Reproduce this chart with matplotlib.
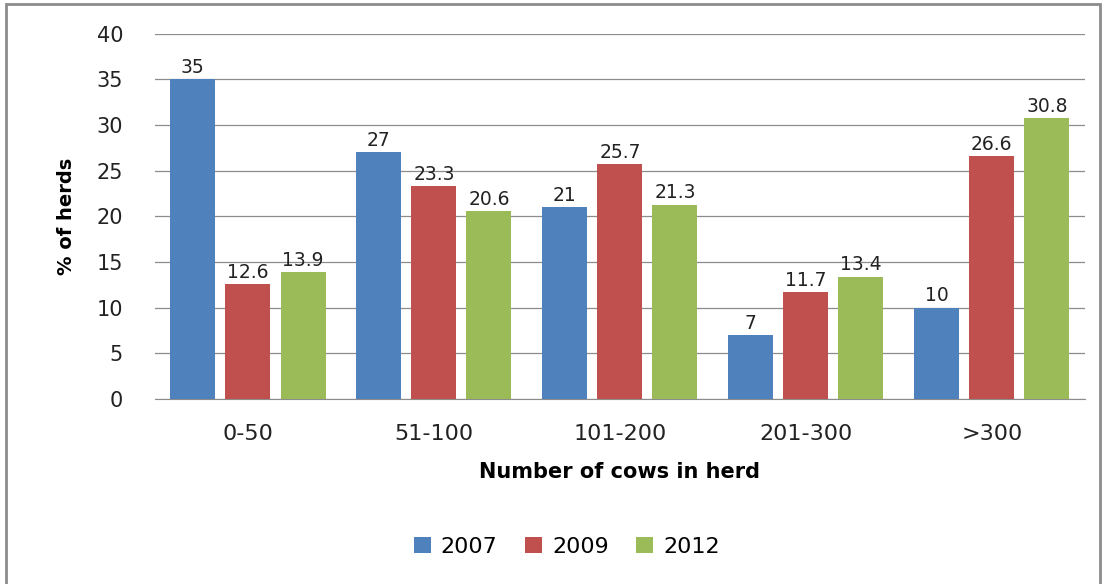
import numpy as np
import matplotlib
matplotlib.use('Agg')
import matplotlib.pyplot as plt
from matplotlib.patches import Rectangle

categories = ['0-50', '51-100', '101-200', '201-300', '>300']
years = ['2007', '2009', '2012']
v2007 = [35, 27, 21, 7, 10]
v2009 = [12.6, 23.3, 25.7, 11.7, 26.6]
v2012 = [13.9, 20.6, 21.3, 13.4, 30.8]
colors = ['#4F81BD', '#C0504D', '#9BBB59']

fig = plt.figure(figsize=(11.07, 5.84), dpi=100)
ax = fig.add_axes([0.14, 0.317, 0.84, 0.625])

x = np.arange(len(categories))
w = 0.242
step = 0.296
for i, (vals, yr) in enumerate(zip([v2007, v2009, v2012], years)):
    pos = x + (i - 1) * step
    ax.bar(pos, vals, w, color=colors[i], label=yr, zorder=3)
    for p, v in zip(pos, vals):
        ax.text(p, v + 0.25, f'{v:g}', ha='center', va='bottom', fontsize=13.5,
                color='#222222', zorder=4)

ax.set_xlim(-0.5, len(categories) - 0.5)
ax.set_ylim(0, 40)
ax.set_yticks(range(0, 41, 5))
ax.set_xticks(x)
ax.set_xticklabels(categories)
ax.tick_params(axis='both', length=0, colors='#222222')
ax.tick_params(axis='x', labelsize=16, pad=18)
ax.tick_params(axis='y', labelsize=15, pad=23)
ax.grid(axis='y', color='#8c8c8c', linewidth=0.9, zorder=0)
for s in ['top', 'right', 'left']:
    ax.spines[s].set_visible(False)
ax.spines['bottom'].set_color('#8c8c8c')

ax.set_xlabel('Number of cows in herd', fontsize=15, fontweight='bold', labelpad=13)
ax.set_ylabel('% of herds', fontsize=14, fontweight='bold', labelpad=15)

ax.legend(loc='center', bbox_to_anchor=(0.443, -0.405), ncol=3, frameon=False,
          fontsize=16, handlelength=0.75, handleheight=0.75, columnspacing=1.25,
          handletextpad=0.45)

fig.patches.append(Rectangle((0.005, -0.01), 0.989, 1.003, transform=fig.transFigure,
                             fill=False, edgecolor='#8c8c8c', linewidth=2))

fig.savefig('out.png', dpi=100)
